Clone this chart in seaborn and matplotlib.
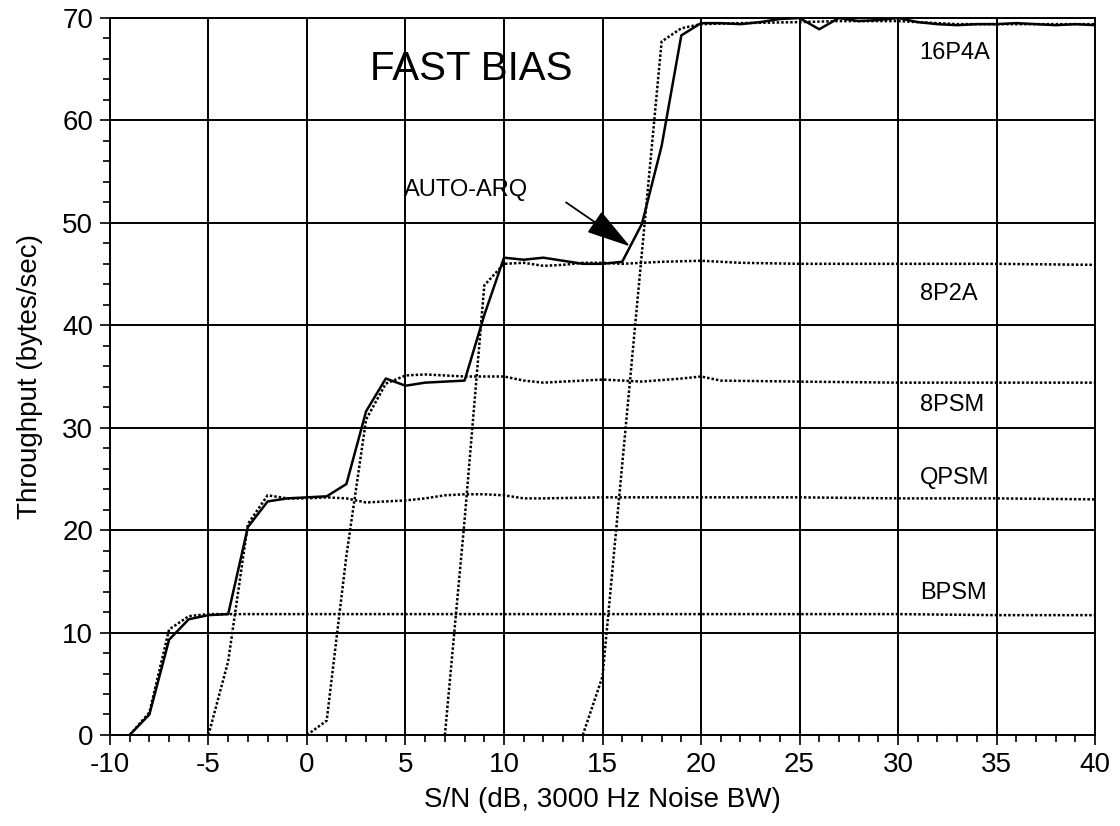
import matplotlib
matplotlib.use("Agg")
import matplotlib.pyplot as plt
from matplotlib.ticker import MultipleLocator
import seaborn as sns

# Data (S/N in dB, throughput in bytes/sec)
bpsm_x = [-9, -8, -7, -6, -5, -4, 0, 5, 10, 15, 20, 25, 30, 35, 40]
bpsm_y = [0, 2.2, 10.3, 11.6, 11.8, 11.8, 11.8, 11.8, 11.8, 11.8, 11.8, 11.8, 11.8, 11.7, 11.7]

qpsm_x = [-5, -4, -3, -2, -1, 0, 1, 2, 3, 4, 5, 6, 7, 8, 9, 10, 11, 12, 15, 20, 25, 30, 35, 40]
qpsm_y = [0, 7.2, 20.6, 23.4, 23.1, 23.1, 23.2, 23.1, 22.7, 22.8, 22.9, 23.1, 23.4, 23.5, 23.5, 23.4,
          23.1, 23.1, 23.2, 23.2, 23.2, 23.1, 23.1, 23.0]

psm8_x = [0, 1, 2, 3, 4, 5, 6, 7, 8, 9, 10, 11, 12, 13, 15, 17, 19, 20, 21, 25, 30, 35, 40]
psm8_y = [0, 1.4, 17.5, 30.8, 34.3, 35.1, 35.2, 35.1, 35.0, 35.0, 35.0, 34.6, 34.4, 34.5, 34.7, 34.5,
          34.8, 35.0, 34.6, 34.5, 34.4, 34.4, 34.4]

p2a8_x = [7, 8, 9, 10, 11, 12, 13, 14, 15, 16, 17, 18, 20, 22, 25, 30, 35, 40]
p2a8_y = [0, 21.0, 43.9, 46.0, 46.1, 45.8, 45.9, 46.1, 46.1, 46.0, 46.1, 46.2, 46.3, 46.1, 46.0, 46.0,
          46.0, 45.9]

p4a16_x = [14, 15, 16, 17, 18, 19, 20, 22, 25, 27, 30, 33, 35, 40]
p4a16_y = [0, 5.7, 26.4, 47.1, 67.7, 69.0, 69.4, 69.5, 69.6, 69.7, 69.7, 69.4, 69.4, 69.4]

arq_x = list(range(-9, 41))
arq_y = [0, 2.0, 9.3, 11.3, 11.7, 11.8, 20.3, 22.8, 23.1, 23.2,
         23.3, 24.5, 31.6, 34.8, 34.1, 34.4, 34.5, 34.6, 41.0, 46.6,
         46.4, 46.6, 46.3, 46.0, 46.0, 46.2, 49.9, 57.5, 68.3, 69.5,
         69.5, 69.4, 69.6, 69.9, 70.0, 68.9, 70.0, 69.7, 69.8, 70.0,
         69.6, 69.4, 69.3, 69.4, 69.4, 69.5, 69.4, 69.3, 69.4, 69.3]

mode_labels = ["16P4A", "8P2A", "8PSM", "QPSM", "BPSM"]
label_y = [66.6, 43.1, 32.2, 25.1, 13.9]

sns.set_style("white")
plt.rcParams["font.family"] = ["Liberation Sans", "DejaVu Sans"]
plt.rcParams["axes.unicode_minus"] = False
plt.rcParams["text.color"] = "black"
plt.rcParams["axes.labelcolor"] = "black"
plt.rcParams["xtick.color"] = "black"
plt.rcParams["ytick.color"] = "black"

fig = plt.figure(figsize=(11.2, 8.26), dpi=100)
ax = fig.add_axes([0.0982, 0.1102, 0.8795, 0.868])

dots = (0, (1, 0.8))
for xs, ys in [(bpsm_x, bpsm_y), (qpsm_x, qpsm_y), (psm8_x, psm8_y),
               (p2a8_x, p2a8_y), (p4a16_x, p4a16_y)]:
    sns.lineplot(x=xs, y=ys, ax=ax, color="black", lw=1.8, linestyle=dots, estimator=None)
sns.lineplot(x=arq_x, y=arq_y, ax=ax, color="black", lw=1.8, estimator=None)

ax.set_xlim(-10, 40)
ax.set_ylim(0, 70)
ax.xaxis.set_major_locator(MultipleLocator(5))
ax.xaxis.set_minor_locator(MultipleLocator(1))
ax.yaxis.set_major_locator(MultipleLocator(10))
ax.yaxis.set_minor_locator(MultipleLocator(2))
ax.grid(True, which="major", color="black", lw=1.4)
ax.set_axisbelow(True)
for s in ax.spines.values():
    s.set_color("black")
    s.set_linewidth(1.4)
ax.tick_params(which="major", direction="out", length=7, width=1.2, labelsize=20, pad=5)
ax.tick_params(which="minor", direction="out", length=5, width=1.2)
ax.tick_params(bottom=True, left=True, which="both")

ax.set_xlabel("S/N (dB, 3000 Hz Noise BW)", fontsize=20, labelpad=7)
ax.set_ylabel("Throughput (bytes/sec)", fontsize=20, labelpad=14)

ax.text(3.2, 65, "FAST BIAS", fontsize=29, ha="left", va="center")
ax.text(4.9, 53.2, "AUTO-ARQ", fontsize=17, ha="left", va="center")
ax.annotate("", xy=(16.4, 47.7), xytext=(13.15, 52.0),
            arrowprops=dict(arrowstyle="-|>,head_length=1.4,head_width=0.4",
                            color="black", lw=1.3, mutation_scale=20, shrinkA=0, shrinkB=0))
for lab, yy in zip(mode_labels, label_y):
    ax.text(31.1, yy, lab, fontsize=17, ha="left", va="center")

fig.savefig("out.png", dpi=100)
